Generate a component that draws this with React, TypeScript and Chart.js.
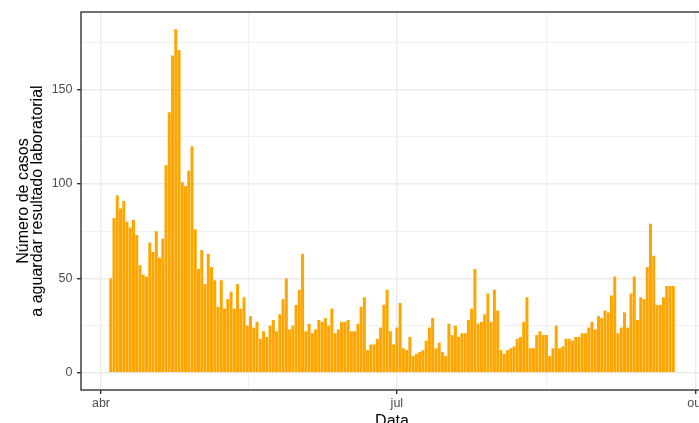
import React, { useEffect, useRef } from "react";
import { Chart, registerables } from "chart.js";

Chart.register(...registerables);

// ---- data ----
const axisOrigin = "2020-04-01";
const firstDate = "2020-04-04";
const casesPending: number[] = [
  50, 82, 94, 87, 91, 80, 77, 81, 73, 57, 52, 51, 69, 64, 75, 61, 71, 110, 138, 168, 182, 171, 101, 99, 107, 120, 76, 55,
  65, 47, 63, 56, 49, 35, 49, 34, 39, 43, 34, 47, 34, 40, 25, 30, 24, 27, 18, 22, 19, 25, 28, 22, 31, 39, 50, 23, 25,
  36, 44, 63, 22, 26, 21, 23, 28, 27, 29, 25, 34, 21, 23, 27, 27, 28, 22, 22, 26, 35, 40, 12, 15, 15, 18, 24, 36, 44, 22,
  15, 24, 37, 13, 12, 19, 9, 10, 11, 12, 17, 24, 29, 13, 16, 11, 9, 26, 20, 25, 19, 21, 21, 28, 34, 55, 26, 27, 31,
  42, 27, 44, 33, 12, 10, 12, 13, 14, 18, 19, 27, 40, 13, 13, 20, 22, 20, 20, 9, 13, 25, 13, 14, 18, 18, 17, 19, 19,
  21, 21, 24, 27, 23, 30, 29, 33, 32, 41, 51, 21, 24, 32, 24, 42, 51, 28, 40, 39, 56, 79, 62, 36, 36, 40, 46, 46, 46,
];
const xTickDates = ["2020-04-01", "2020-07-01", "2020-10-01"];
const xTickLabels = ["abr", "jul", "out"];
const yMajorTicks = [0, 50, 100, 150];
const yMinorTicks = [25, 75, 125, 175];
const yTitleLines = ["Número de casos", "a aguardar resultado laboratorial"];
const xTitle = "Data";

const FONT = "'Liberation Sans', Arial, Helvetica, sans-serif";
const DAY = 86400000;
const dayIndex = (s: string) =>
  Math.round((Date.parse(s + "T00:00:00Z") - Date.parse(axisOrigin + "T00:00:00Z")) / DAY);

export default function App() {
  const ref = useRef<HTMLCanvasElement | null>(null);

  useEffect(() => {
    if (!ref.current) return;
    const startIdx = dayIndex(firstDate);
    const points = casesPending.map((v, i) => ({ x: startIdx + i, y: v }));
    const xLo = startIdx - 0.45;
    const xHi = startIdx + casesPending.length - 1 + 0.45;
    const xPad = (xHi - xLo) * 0.05;
    const yMax = Math.max(...casesPending);
    const yPad = yMax * 0.05;

    const majorX = xTickDates.map(dayIndex);
    const minorX = majorX.slice(1).map((v, i) => (v + majorX[i]) / 2);

    const isMajorX = (v: number) => majorX.includes(v);
    const isMajorY = (v: number) => yMajorTicks.includes(v);

    const bgPlugin = {
      id: "bg",
      beforeDraw(chart: any) {
        const c = chart.ctx;
        c.save();
        c.fillStyle = "#FFFFFF";
        c.fillRect(0, 0, chart.width, chart.height);
        c.restore();
      },
      afterDraw(chart: any) {
        const { left, top, right, bottom } = chart.chartArea;
        const c = chart.ctx;
        c.save();
        c.strokeStyle = "#333333";
        c.lineWidth = 1.4;
        c.strokeRect(left, top, right - left, bottom - top);
        c.restore();
      },
    };

    const chart = new Chart(ref.current, {
      type: "bar",
      data: {
        datasets: [
          {
            data: points as any,
            backgroundColor: "#FFA500",
            borderWidth: 0,
            barPercentage: 0.92,
            categoryPercentage: 1.0,
            inflateAmount: 0,
          } as any,
        ],
      },
      options: {
        animation: false,
        responsive: false,
        devicePixelRatio: 1,
        layout: { padding: { left: 0, top: 12, right: 27, bottom: 0 } },
        plugins: { legend: { display: false }, tooltip: { enabled: false } },
        scales: {
          x: {
            type: "linear",
            min: xLo - xPad,
            max: xHi + xPad,
            offset: false,
            afterBuildTicks: (s: any) => {
              s.ticks = [...majorX, ...minorX].sort((a, b) => a - b).map((v) => ({ value: v }));
            },
            afterFit: (s: any) => {
              s.height = 50;
            },
            ticks: {
              autoSkip: false,
              maxRotation: 0,
              minRotation: 0,
              padding: 2,
              color: "#4D4D4D",
              font: { family: FONT, size: 12.5 },
              callback: (v: any) => {
                const i = majorX.indexOf(Number(v));
                return i >= 0 ? xTickLabels[i] : "";
              },
            },
            grid: {
              offset: false,
              color: "#EBEBEB",
              lineWidth: (c: any) => (c.tick && isMajorX(c.tick.value) ? 1.4 : 0.7),
              tickLength: 4,
              tickWidth: 1.4,
              tickColor: (c: any) => (c.tick && isMajorX(c.tick.value) ? "#333333" : "rgba(0,0,0,0)"),
            },
            border: { display: false },
            title: {
              display: true,
              text: xTitle,
              color: "#000000",
              font: { family: FONT, size: 16 },
              padding: { top: 0, bottom: 8.6 },
            },
          } as any,
          y: {
            type: "linear",
            min: -yPad,
            max: yMax + yPad,
            afterBuildTicks: (s: any) => {
              s.ticks = [...yMajorTicks, ...yMinorTicks].sort((a, b) => a - b).map((v) => ({ value: v }));
            },
            afterFit: (s: any) => {
              s.width = 81;
            },
            ticks: {
              padding: 4.5,
              color: "#4D4D4D",
              font: { family: FONT, size: 12.5 },
              callback: (v: any) => (isMajorY(Number(v)) ? String(v) : ""),
            },
            grid: {
              color: "#EBEBEB",
              lineWidth: (c: any) => (c.tick && isMajorY(c.tick.value) ? 1.4 : 0.7),
              tickLength: 4,
              tickWidth: 1.4,
              tickColor: (c: any) => (c.tick && isMajorY(c.tick.value) ? "#333333" : "rgba(0,0,0,0)"),
            },
            border: { display: false },
            title: {
              display: true,
              text: yTitleLines,
              color: "#000000",
              font: { family: FONT, size: 16, lineHeight: 0.9 },
              padding: { top: 16, bottom: 0 },
            },
          } as any,
        },
      },
      plugins: [bgPlugin],
    });
    return () => chart.destroy();
  }, []);

  return (
    <div
      style={{
        position: "fixed",
        left: 0,
        top: 0,
        width: 699,
        height: 423,
        overflow: "hidden",
        background: "#FFFFFF",
      }}
    >
      <canvas ref={ref} width={730} height={440} style={{ display: "block" }} />
    </div>
  );
}
